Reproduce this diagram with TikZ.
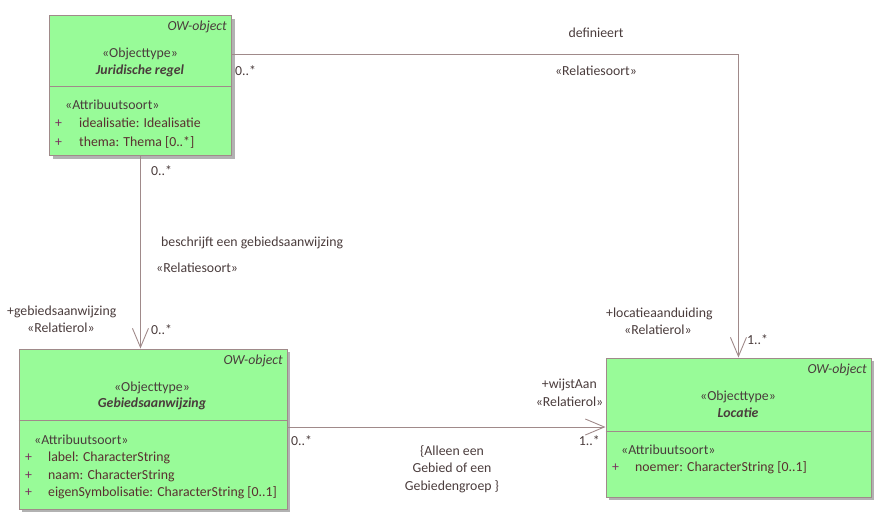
\documentclass[tikz,border=0pt]{standalone}
\usepackage{fontspec}
\setmainfont{Carlito}
\usetikzlibrary{arrows.meta,shadows,calc}
\definecolor{boxfill}{HTML}{98FB98}
\definecolor{edge}{HTML}{A08A8A}
\definecolor{txt}{HTML}{4A3C3C}
\definecolor{attr}{HTML}{5A3030}
\definecolor{plus}{HTML}{7A3060}
\newcommand{\fsz}{\fontsize{13.8}{16}\selectfont}
\tikzset{
  umlbox/.style={draw=edge, line width=0.9pt, fill=boxfill, inner sep=0pt, anchor=north west,
    drop shadow={shadow xshift=3.5pt, shadow yshift=-3.5pt, fill=black!30, opacity=1}},
  lbl/.style={text=txt, inner sep=0pt, anchor=mid, font=\fsz, yshift=-2.5pt},
  lblw/.style={lbl, fill=white, inner sep=0.5pt},
  attrtxt/.style={lbl, text=attr, anchor=mid west},
  plustxt/.style={lbl, text=plus, anchor=mid west},
  owtxt/.style={lbl, anchor=mid east, font=\fsz\itshape},
  nametxt/.style={lbl, font=\fsz\bfseries\itshape},
  conn/.style={draw=edge, line width=0.9pt},
  opentip/.style={-{Straight Barb[length=19pt,width=16pt,line width=0.9pt]}}
}
\begin{document}
\begin{tikzpicture}[x=1pt,y=-1pt]
\useasboundingbox (0,0) rectangle (886,524);

% boxes
\node[umlbox, minimum width=182pt, minimum height=140pt] (b1) at (49,15) {};
\node[umlbox, minimum width=268pt, minimum height=160pt] (b2) at (18.5,348.5) {};
\node[umlbox, minimum width=265pt, minimum height=139pt] (b3) at (605.5,357.5) {};

% dividers
\draw[conn] (b1.west |- 0,86) -- (b1.east |- 0,86);
\draw[conn] (b2.west |- 0,420) -- (b2.east |- 0,420);
\draw[conn] (b3.west |- 0,431) -- (b3.east |- 0,431);

% box 1 texts
\node[owtxt] (b1ow) at (227,26) {OW-object};
\node[lbl] (b1st) at (140,53) {«Objecttype»};
\node[nametxt] (b1nm) at (140,70) {Juridische regel};
\node[lbl, anchor=mid west] (b1as) at (65,105) {«Attribuutsoort»};
\node[plustxt] (b1p1) at (55,123) {+};
\node[attrtxt] (b1a1) at (79,123) {idealisatie: Idealisatie};
\node[plustxt] (b1p2) at (55,142) {+};
\node[attrtxt] (b1a2) at (79,142) {thema: Thema [0..*]};

% box 2 texts
\node[owtxt] (b2ow) at (283,360) {OW-object};
\node[lbl] (b2st) at (152,387) {«Objecttype»};
\node[nametxt] (b2nm) at (152,403) {Gebiedsaanwijzing};
\node[lbl, anchor=mid west] (b2as) at (34,440) {«Attribuutsoort»};
\node[plustxt] (b2p1) at (25,457) {+};
\node[attrtxt] (b2a1) at (48,457) {label: CharacterString};
\node[plustxt] (b2p2) at (25,475) {+};
\node[attrtxt] (b2a2) at (48,475) {naam: CharacterString};
\node[plustxt] (b2p3) at (25,492) {+};
\node[attrtxt] (b2a3) at (48,492) {eigenSymbolisatie: CharacterString [0..1]};

% box 3 texts
\node[owtxt] (b3ow) at (867,369) {OW-object};
\node[lbl] (b3st) at (738,396) {«Objecttype»};
\node[nametxt] (b3nm) at (738,413) {Locatie};
\node[lbl, anchor=mid west] (b3as) at (621,450) {«Attribuutsoort»};
\node[plustxt] (b3p1) at (612,467) {+};
\node[attrtxt] (b3a1) at (635,467) {noemer: CharacterString [0..1]};

% connectors
\coordinate (c1s) at (b1.east |- 0,54.5);
\draw[conn, opentip] (c1s) -| (b3.north);
\draw[conn, opentip] (b1.south) -- (b1.south |- b2.north);
\coordinate (c3s) at (b2.east |- 0,427);
\draw[conn, opentip] (c3s) -- (b3.west |- c3s);

% connector labels
\node[lbl, anchor=mid west] (m1) at (235,71) {0..*};
\node[lbl] (d1) at (596,33) {definieert};
\node[lbl] (d1s) at (596,71) {«Relatiesoort»};
\node[lbl, anchor=mid west] (m2) at (151,171) {0..*};
\node[lbl, anchor=mid west] (d2) at (161,242) {beschrijft een gebiedsaanwijzing};
\node[lbl, anchor=mid west] (d2s) at (156,268) {«Relatiesoort»};
\node[lbl, anchor=mid west] (r2a) at (7,311) {+gebiedsaanwijzing};
\node[lbl, anchor=mid west] (r2b) at (27,328) {«Relatierol»};
\node[lbl, anchor=mid west] (m3) at (151,330) {0..*};
\node[lbl, anchor=mid west] (r3a) at (606,313) {+locatieaanduiding};
\node[lbl, anchor=mid west] (r3b) at (624,330) {«Relatierol»};
\node[lbl, anchor=mid west] (m4) at (747,340) {1..*};
\node[lbl, anchor=mid west] (m5) at (291,441) {0..*};
\node[lbl] (k1) at (452,451) {\{Alleen een};
\node[lbl] (k2) at (452,468) {Gebied of een};
\node[lbl] (k3) at (452,486) {Gebiedengroep \}};
\node[lbl, anchor=mid east] (r4a) at (597,384) {+wijstAan};
\node[lblw, anchor=mid east] (r4b) at (604,402) {«Relatierol»};
\node[lbl, anchor=mid east] (m6) at (600,441) {1..*};
\end{tikzpicture}
\end{document}
